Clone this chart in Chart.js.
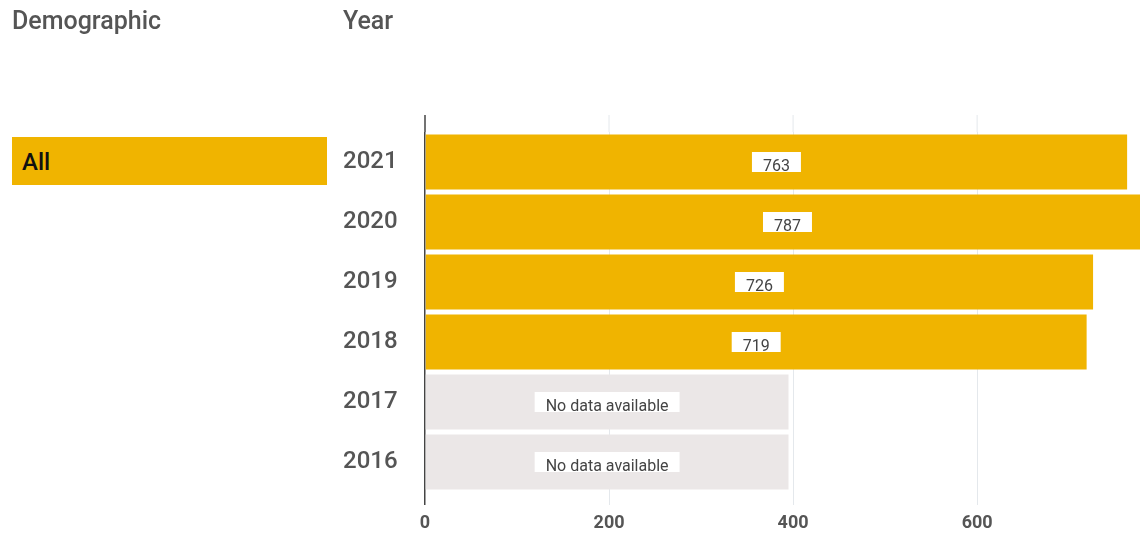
<!DOCTYPE html>
<html>
<head>
<meta charset="utf-8">
<script src="https://cdn.jsdelivr.net/npm/chart.js@4.4.0/dist/chart.umd.min.js"></script>
<style>
  html, body { margin: 0; padding: 0; background: #fff; }
  #wrap { position: relative; width: 1140px; height: 537px; font-family: Roboto, sans-serif; overflow: hidden; }
  #chart { position: absolute; left: 0; top: 0; }
  .head { position: absolute; top: 7px; font-size: 25px; font-weight: 500; line-height: 28px; color: #555; }
  #all {
    position: absolute; left: 12px; top: 137px; width: 315px; height: 48px;
    background: #f0b400; color: #111; font-size: 24px; font-weight: 500;
    line-height: 50px; box-sizing: border-box; padding-left: 10px;
  }
</style>
</head>
<body>
<div id="wrap">
  <canvas id="chart" width="1140" height="537"></canvas>
  <div class="head" style="left:12px">Demographic</div>
  <div class="head" style="left:343px">Year</div>
  <div id="all">All</div>
</div>
<script>
// chart data
const years = ['2021', '2020', '2019', '2018', '2017', '2016'];
const values = [763, 787, 726, 719, null, null];
const noDataBars = [null, null, null, null, 395, 395];
const xTicks = [0, 200, 400, 600];
const noDataText = 'No data available';

const yellow = '#f0b400';
const grey = '#ebe7e7';
const gridColor = (v) => (v === 0 ? '#444' : '#e4e8ec');

// draws grid lines a bit above the plot area, like the original
const gridTop = {
  id: 'gridTop',
  beforeDatasetsDraw(chart) {
    const { ctx, chartArea, scales } = chart;
    ctx.save();
    scales.x.ticks.forEach(t => {
      const x = scales.x.getPixelForValue(t.value);
      ctx.beginPath();
      ctx.strokeStyle = gridColor(t.value);
      ctx.lineWidth = t.value === 0 ? 1.5 : 1;
      ctx.moveTo(x, chartArea.top - 17);
      ctx.lineTo(x, chartArea.top);
      ctx.stroke();
    });
    ctx.restore();
  }
};

// value labels in white boxes at the middle of each bar
const barLabels = {
  id: 'barLabels',
  afterDatasetsDraw(chart) {
    const { ctx } = chart;
    ctx.save();
    ctx.font = '16px Roboto';
    ctx.textAlign = 'center';
    ctx.textBaseline = 'middle';
    chart.data.datasets.forEach((ds, di) => {
      chart.getDatasetMeta(di).data.forEach((el, i) => {
        if (ds.data[i] == null) return;
        const text = di === 0 ? String(ds.data[i]) : noDataText;
        const cx = (el.x + el.base) / 2;
        const w = ctx.measureText(text).width + 22;
        ctx.fillStyle = '#fff';
        ctx.fillRect(cx - w / 2, el.y - 10, w, 20);
        ctx.fillStyle = '#444';
        ctx.fillText(text, cx, el.y + 5);
      });
    });
    ctx.restore();
  }
};

new Chart(document.getElementById('chart'), {
  type: 'bar',
  data: {
    labels: years,
    datasets: [
      { label: 'Value', data: values, backgroundColor: yellow },
      { label: 'No data', data: noDataBars, backgroundColor: grey }
    ]
  },
  options: {
    responsive: false,
    animation: false,
    indexAxis: 'y',
    layout: { padding: { left: 343, top: 132, right: 0, bottom: 0 } },
    datasets: { bar: { grouped: false, barPercentage: 0.92, categoryPercentage: 1 } },
    plugins: { legend: { display: false }, tooltip: { enabled: false } },
    scales: {
      x: {
        min: 0,
        max: 777,
        afterBuildTicks: (axis) => { axis.ticks = xTicks.map(v => ({ value: v })); },
        afterFit: (axis) => { axis.height = 45; },
        border: { display: false },
        grid: {
          color: (c) => gridColor(c.tick && c.tick.value),
          lineWidth: (c) => (c.tick && c.tick.value === 0 ? 1.5 : 1),
          tickLength: 13
        },
        ticks: {
          padding: 8,
          color: '#555',
          font: { family: 'Roboto', size: 18, weight: 'bold' }
        }
      },
      y: {
        afterFit: (axis) => { axis.width = 82; },
        border: { display: false },
        grid: { display: false },
        ticks: {
          crossAlign: 'far',
          color: '#555',
          font: { family: 'Roboto', size: 24, weight: '500' }
        }
      }
    }
  },
  plugins: [gridTop, barLabels]
});
</script>
</body>
</html>
